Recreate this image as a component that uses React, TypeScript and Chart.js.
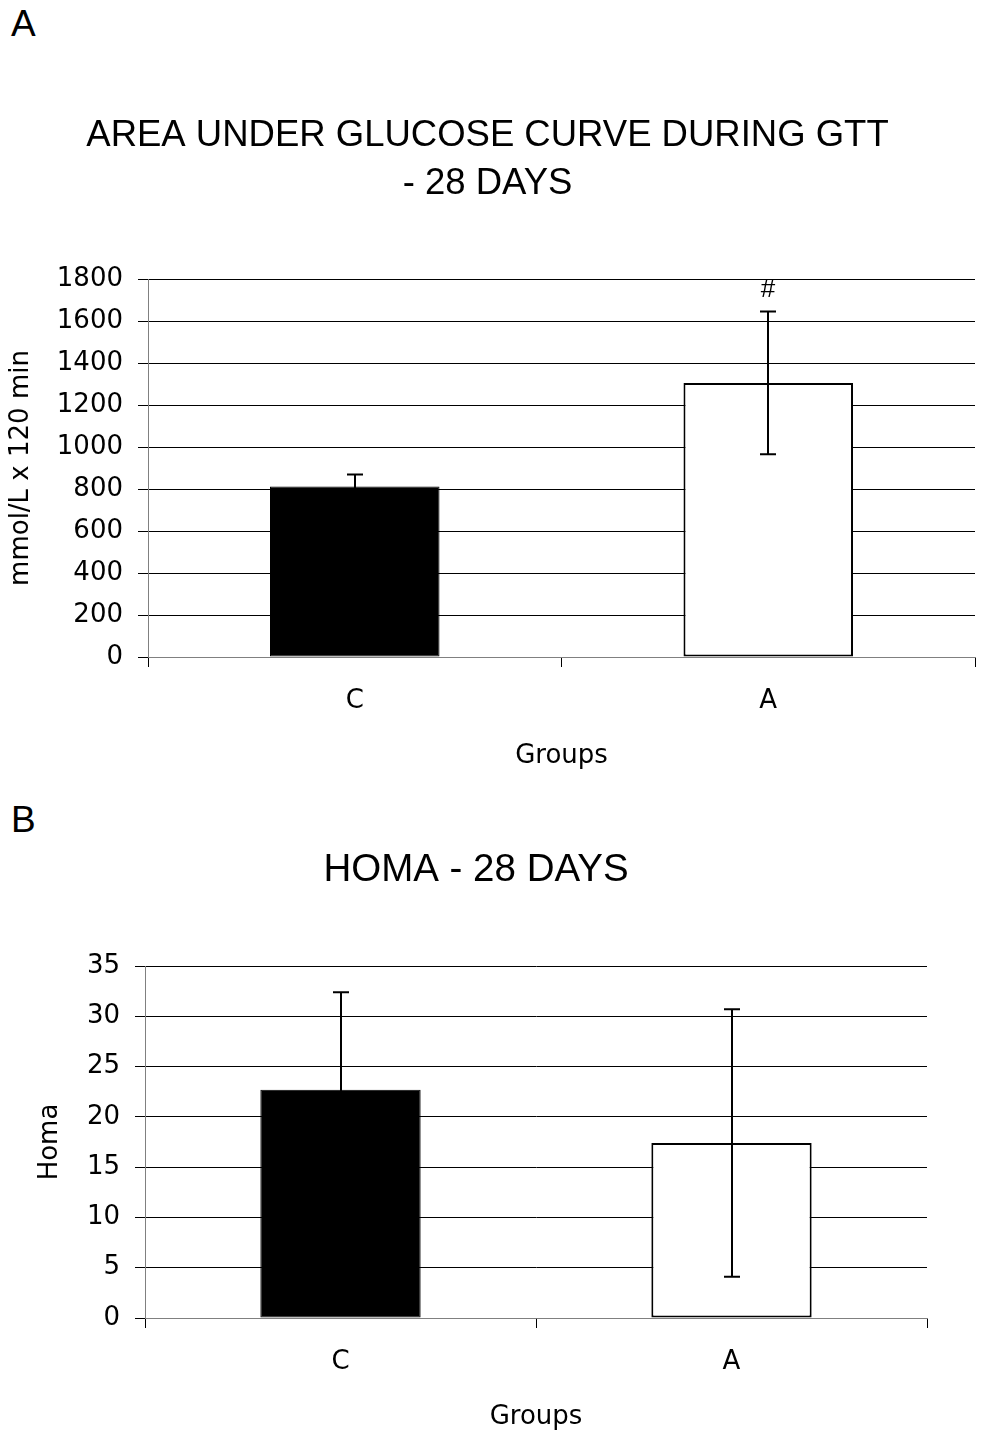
import { useEffect, useRef } from "react";
import { Chart, registerables } from "chart.js";

Chart.register(...registerables);

// ---- data ----
const groups = ["C", "A"];
const barFills = ["#000000", "#ffffff"];
const barBorderWidths = [1, 2];

const gttValues = [812, 1305];
const gttErrors = [57, 340];
const gttMarks = ["", "#"];
const gttTickMin = 0;
const gttTickMax = 1800;
const gttTickStep = 200;

const homaValues = [22.7, 17.4];
const homaErrors = [9.7, 13.3];
const homaMarks = ["", ""];
const homaTickMin = 0;
const homaTickMax = 35;
const homaTickStep = 5;

const TITLE_FONT = "'Liberation Sans', Arial, sans-serif";
const AXIS_FONT = "'DejaVu Sans', sans-serif";

function makeErrorPlugin(values: number[], errors: number[], marks: string[]) {
  return {
    id: "errorBars",
    afterDatasetsDraw(chart: any) {
      const { ctx } = chart;
      const meta = chart.getDatasetMeta(0);
      const ys = chart.scales.y;
      ctx.save();
      ctx.strokeStyle = "#000";
      ctx.lineWidth = 2;
      meta.data.forEach((bar: any, i: number) => {
        const v = values[i];
        const e = errors[i];
        const x = Math.round(bar.x);
        const top = ys.getPixelForValue(v + e);
        const bot = ys.getPixelForValue(v - e);
        ctx.beginPath();
        ctx.moveTo(x, top);
        ctx.lineTo(x, bot);
        ctx.moveTo(x - 8, top);
        ctx.lineTo(x + 8, top);
        ctx.moveTo(x - 8, bot);
        ctx.lineTo(x + 8, bot);
        ctx.stroke();
        if (marks[i]) {
          ctx.fillStyle = "#000";
          ctx.font = `26px ${TITLE_FONT}`;
          ctx.textAlign = "center";
          ctx.textBaseline = "middle";
          ctx.fillText(marks[i], x, top - 22);
        }
      });
      ctx.restore();
    },
  };
}

interface PanelProps {
  width: number;
  height: number;
  title: string[];
  titleSize: number;
  titleLineHeight: number;
  titlePadTop: number;
  titlePadBottom: number;
  yTitle: string;
  yTitlePad: number;
  yWidth: number;
  padLeft: number;
  padRight: number;
  padBottom: number;
  values: number[];
  errors: number[];
  marks: string[];
  min: number;
  max: number;
  step: number;
}

function Panel(p: PanelProps) {
  const ref = useRef<HTMLCanvasElement>(null);
  useEffect(() => {
    if (!ref.current) return;
    const chart = new Chart(ref.current, {
      type: "bar",
      data: {
        labels: groups,
        datasets: [
          {
            data: p.values,
            backgroundColor: barFills,
            borderColor: "#000000",
            borderWidth: barBorderWidths,
            borderSkipped: false,
            barPercentage: 0.41,
            categoryPercentage: 1,
          },
        ],
      },
      options: {
        animation: false,
        responsive: false,
        devicePixelRatio: 1,
        layout: {
          padding: { left: p.padLeft, right: p.padRight, top: 0, bottom: p.padBottom },
        },
        plugins: {
          legend: { display: false },
          tooltip: { enabled: false },
          title: {
            display: true,
            text: p.title,
            color: "#000",
            font: {
              family: TITLE_FONT,
              size: p.titleSize,
              weight: "normal",
              lineHeight: p.titleLineHeight / p.titleSize,
            },
            padding: { top: p.titlePadTop, bottom: p.titlePadBottom },
          },
        },
        scales: {
          x: {
            grid: {
              offset: true,
              drawOnChartArea: false,
              drawTicks: true,
              tickLength: 10,
              color: "#000",
            },
            border: { color: "#808080", width: 1 },
            ticks: {
              color: "#000",
              font: { family: AXIS_FONT, size: 26 },
              padding: 19,
            },
            title: {
              display: true,
              text: "Groups",
              color: "#000",
              font: { family: AXIS_FONT, size: 26 },
              padding: { top: 0, bottom: 4 },
            },
            afterFit: (s: any) => {
              s.height = 119;
            },
          },
          y: {
            min: p.min,
            max: p.max,
            grid: { color: "#000", tickLength: 10, lineWidth: 1 },
            border: { color: "#808080", width: 1 },
            ticks: {
              stepSize: p.step,
              color: "#000",
              font: { family: AXIS_FONT, size: 26 },
              padding: 15,
              callback: (v: any) => String(v),
            },
            title: {
              display: true,
              text: p.yTitle,
              color: "#000",
              font: { family: AXIS_FONT, size: 26 },
              padding: { top: p.yTitlePad, bottom: 0 },
            },
            afterFit: (s: any) => {
              s.width = p.yWidth;
            },
          },
        },
      } as any,
      plugins: [makeErrorPlugin(p.values, p.errors, p.marks)],
    });
    return () => chart.destroy();
  }, []);
  return (
    <canvas
      ref={ref}
      width={p.width}
      height={p.height}
      style={{ display: "block", width: p.width, height: p.height }}
    />
  );
}

export default function App() {
  return (
    <div
      style={{
        position: "absolute",
        left: 0,
        top: 0,
        width: 981,
        height: 1437,
        background: "#fff",
        overflow: "hidden",
      }}
    >
      <div
        style={{
          position: "absolute",
          left: 11,
          top: 5,
          font: `37px ${TITLE_FONT}`,
          lineHeight: 1,
          color: "#000",
        }}
      >
        A
      </div>
      <div
        style={{
          position: "absolute",
          left: 11,
          top: 801,
          font: `37px ${TITLE_FONT}`,
          lineHeight: 1,
          color: "#000",
        }}
      >
        B
      </div>
      <div style={{ position: "absolute", left: 0, top: 0 }}>
        <Panel
          width={981}
          height={800}
          title={["AREA UNDER GLUCOSE CURVE DURING GTT", "- 28 DAYS"]}
          titleSize={36.5}
          titleLineHeight={48}
          titlePadTop={112}
          titlePadBottom={71}
          yTitle="mmol/L x 120 min"
          yTitlePad={6}
          yWidth={148}
          padLeft={0}
          padRight={6}
          padBottom={24}
          values={gttValues}
          errors={gttErrors}
          marks={gttMarks}
          min={gttTickMin}
          max={gttTickMax}
          step={gttTickStep}
        />
      </div>
      <div style={{ position: "absolute", left: 0, top: 800 }}>
        <Panel
          width={981}
          height={637}
          title={["HOMA - 28 DAYS"]}
          titleSize={38.5}
          titleLineHeight={48}
          titlePadTop={46}
          titlePadBottom={72}
          yTitle="Homa"
          yTitlePad={10}
          yWidth={120}
          padLeft={25}
          padRight={54}
          padBottom={0}
          values={homaValues}
          errors={homaErrors}
          marks={homaMarks}
          min={homaTickMin}
          max={homaTickMax}
          step={homaTickStep}
        />
      </div>
    </div>
  );
}
